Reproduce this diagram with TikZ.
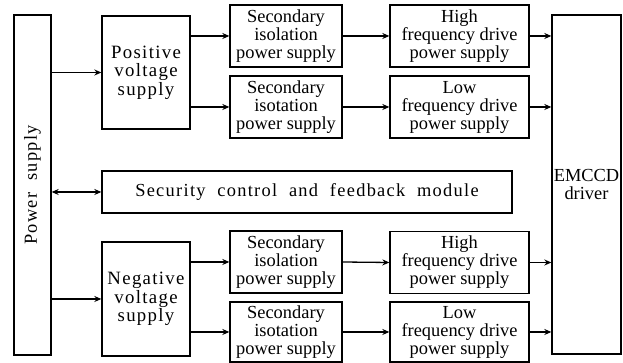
\documentclass[tikz,border=0pt]{standalone}
\usepackage{fontspec}
\setmainfont{Liberation Serif}
\newfontfamily\widefont[LetterSpace=7]{Liberation Serif}
\usetikzlibrary{arrows.meta}

\begin{document}
\begin{tikzpicture}[x=0.5pt, y=-0.5pt, line width=0.65pt,
    box/.style = {draw, align=center, inner sep=0pt, font=\fontsize{9.2}{9}\selectfont},
    widebox/.style = {box, font=\widefont\fontsize{9.4}{9.2}\selectfont},
    arr/.style = {-{Stealth[length=3.5pt, width=3pt]}}]
    \useasboundingbox (0,0) rectangle (623,363);

    % left and right columns
    \node[box, minimum width=18.5pt, minimum height=170pt] (power) at (32.5,185) {};
    \node[rotate=90, font=\widefont\fontsize{9.2}{9}\selectfont] at (power) {Power\ \ supply};
    \node[box, minimum width=34.5pt, minimum height=169.5pt] (emccd) at (586.5,184.5) {EMCCD\\driver};

    % supplies
    \node[widebox, minimum width=44pt, minimum height=56.5pt] (pos) at (146,72.5) {Positive\\voltage\\supply};
    \node[widebox, minimum width=44pt, minimum height=57pt] (neg) at (146,299) {Negative\\voltage\\supply};

    % secondary isolation
    \node[box, minimum width=56pt, minimum height=31pt] (sec1) at (286,36) {Secondary\\isolation\\power supply};
    \node[box, minimum width=56pt, minimum height=31pt] (sec2) at (286,107) {Secondary\\isotation\\power supply};
    \node[box, minimum width=56pt, minimum height=31pt] (sec3) at (286,262) {Secondary\\isolation\\power supply};
    \node[box, minimum width=56pt, minimum height=30pt] (sec4) at (286,332) {Secondary\\isotation\\power supply};

    % drive supplies
    \node[box, minimum width=69.5pt, minimum height=31pt] (hi1) at (459.5,36) {High\\frequency drive\\power supply};
    \node[box, minimum width=69.5pt, minimum height=31pt] (lo1) at (459.5,107) {Low\\frequency drive\\power supply};
    \node[box, minimum width=69.5pt, minimum height=31pt] (hi2) at (459.5,262.5) {High\\frequency drive\\power supply};
    \node[box, minimum width=69.5pt, minimum height=30pt] (lo2) at (459.5,332) {Low\\frequency drive\\power supply};

    \node[box, font=\widefont\fontsize{9.2}{9}\selectfont, minimum width=205pt, minimum height=21pt] (safe) at (307,192) {Security\ \ control\ \ and\ \ feedback\ \ module};

    \draw[arr] (power.east |- pos) -- (pos.west);
    \draw[arr] (power.east |- neg) -- (neg.west);
    \draw[{Stealth[length=3.5pt, width=3pt]}-{Stealth[length=3.5pt, width=3pt]}] (power.east |- safe) -- (safe.west);

    \draw[arr] (pos.east |- sec1) -- (sec1.west);
    \draw[arr] (pos.east |- sec2) -- (sec2.west);
    \draw[arr] (neg.east |- sec3) -- (sec3.west);
    \draw[arr] (neg.east |- sec4) -- (sec4.west);

    \draw[arr] (sec1.east) -- (hi1.west);
    \draw[arr] (sec2.east) -- (lo1.west);
    \draw[arr] (sec3.east) -- (hi2.west);
    \draw[arr] (sec4.east) -- (lo2.west);

    \draw[arr] (hi1.east) -- (hi1.east -| emccd.west);
    \draw[arr] (lo1.east) -- (lo1.east -| emccd.west);
    \draw[arr] (hi2.east) -- (hi2.east -| emccd.west);
    \draw[arr] (lo2.east) -- (lo2.east -| emccd.west);
\end{tikzpicture}
\end{document}
